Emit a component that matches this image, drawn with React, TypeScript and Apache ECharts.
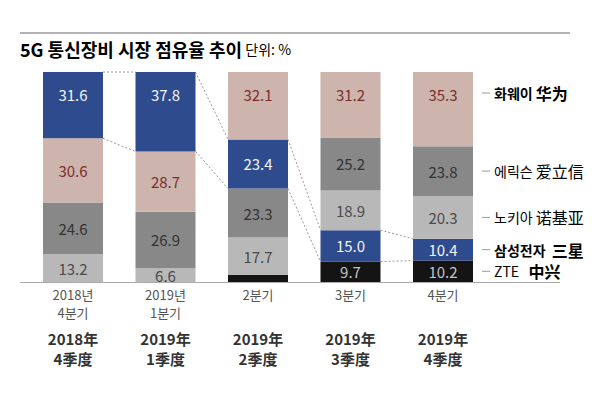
import React, { useEffect, useRef } from 'react';
import * as echarts from 'echarts';

// ---------- data ----------
const quartersKo = ['2018년\n4분기', '2019년\n1분기', '2분기', '3분기', '4분기'];
const quartersZh = ['2018年\n4季度', '2019年\n1季度', '2019年\n2季度', '2019年\n3季度', '2019年\n4季度'];
const companyKeys = ['samsung', 'huawei', 'ericsson', 'nokia', 'zte'];
const companiesKo = ['삼성전자', '화웨이', '에릭슨', '노키아', 'ZTE'];
const companiesZh = ['三星', '华为', '爱立信', '诺基亚', '中兴'];
const samsung = [31.6, 37.8, 23.4, 15.0, 10.4];
const huawei = [30.6, 28.7, 32.1, 31.2, 35.3];
const ericsson = [24.6, 26.9, 23.3, 25.2, 23.8];
const nokia = [13.2, 6.6, 17.7, 18.9, 20.3];
const zte = [0, 0, 3.5, 9.7, 10.2];
// stacking order per quarter, bottom -> top
const stackOrder = [
  ['zte', 'nokia', 'ericsson', 'huawei', 'samsung'],
  ['zte', 'nokia', 'ericsson', 'huawei', 'samsung'],
  ['zte', 'nokia', 'ericsson', 'samsung', 'huawei'],
  ['zte', 'samsung', 'nokia', 'ericsson', 'huawei'],
  ['zte', 'samsung', 'nokia', 'ericsson', 'huawei'],
];
const titleText = '5G 통신장비 시장 점유율 추이';
const unitText = '단위: %';

// ---------- styles ----------
const FONT = "'Noto Sans CJK KR', 'Noto Sans', sans-serif";
const BAR_W = 60;
const TOP_LABEL_OFFSET = 21;
const LABEL_MIN = 5;
const fill: Record<string, string> = {
  samsung: '#2d4b8d', huawei: '#cdb4ac', ericsson: '#888888', nokia: '#b8b8b8', zte: '#141414',
};
const labelColor: Record<string, string> = {
  samsung: '#f4f4f4', huawei: '#7a2e2e', ericsson: '#333333', nokia: '#4a4a4a', zte: '#c4c4c4',
};
const legendRich: Record<string, any> = {
  samsung: { a: { fontSize: 14, fontWeight: 'bold', color: '#2d4b8d' }, b: { fontSize: 16, fontWeight: 'bold', color: '#2d4b8d' }, gap: '  ' },
  huawei: { a: { fontSize: 14, fontWeight: 'bold', color: '#8a3636' }, b: { fontSize: 16, fontWeight: 'bold', color: '#8a3636' }, gap: ' ' },
  ericsson: { a: { fontSize: 14, color: '#666666' }, b: { fontSize: 16, color: '#555555' }, gap: ' ' },
  nokia: { a: { fontSize: 14, color: '#666666' }, b: { fontSize: 16, color: '#555555' }, gap: ' ' },
  zte: { a: { fontSize: 14, color: '#777777' }, b: { fontSize: 16, fontWeight: 'bold', color: '#111111' }, gap: '   ' },
};

const values: Record<string, number[]> = { samsung, huawei, ericsson, nokia, zte };

function bounds(key: string, i: number): [number, number] {
  let b = 0;
  for (const k of stackOrder[i]) {
    if (k === key) return [b, b + values[key][i]];
    b += values[k][i];
  }
  return [b, b];
}

export default function App() {
  const ref = useRef<HTMLDivElement>(null);
  useEffect(() => {
    if (!ref.current) return;
    const chart = echarts.init(ref.current, null, { renderer: 'svg' });

    const barSeries = [0, 1, 2, 3, 4].map((j) => ({
      type: 'bar',
      stack: 'total',
      barWidth: BAR_W,
      z: 3,
      label: {
        show: true,
        position: j === 4 ? 'insideTop' : 'inside',
        distance: 14,
        fontSize: 15,
        lineHeight: 16,
        fontFamily: FONT,
        formatter: (p: any) => Number(p.value).toFixed(1),
      },
      data: quartersKo.map((_, i) => {
        const key = stackOrder[i][j];
        const v = values[key][i];
        return {
          value: v,
          itemStyle: { color: fill[key] },
          label: { show: v >= LABEL_MIN, color: labelColor[key] },
        };
      }),
    }));

    const connectorData = [0, 1, 2, 3].map((i) => [i, ...bounds('samsung', i), ...bounds('samsung', i + 1)]);
    const last = quartersKo.length - 1;
    const legendData = companyKeys.map((key, k) => {
      const [b, t] = bounds(key, last);
      const isTop = stackOrder[last][4] === key ? 1 : 0;
      return [last, isTop ? t : (b + t) / 2, k, isTop];
    });

    chart.setOption({
      animation: false,
      textStyle: { fontFamily: FONT },
      grid: { left: 26.75, right: 126.75, top: 72, bottom: 116 },
      xAxis: [
        {
          type: 'category',
          data: quartersKo,
          axisLine: { show: false },
          axisTick: { show: false },
          axisLabel: { margin: 3, fontSize: 13, lineHeight: 18, color: '#555555', fontFamily: FONT },
        },
        {
          type: 'category',
          data: quartersZh,
          position: 'bottom',
          offset: 43,
          axisLine: { show: false },
          axisTick: { show: false },
          axisLabel: { margin: 3, fontSize: 15, lineHeight: 20, fontWeight: 'bold', color: '#333333', fontFamily: FONT },
        },
      ],
      yAxis: { type: 'value', min: 0, max: 100, show: false },
      series: [
        ...barSeries,
        {
          type: 'custom',
          z: 2,
          data: connectorData,
          encode: { x: 0, y: [1, 2, 3, 4] },
          renderItem: (_p: any, api: any) => {
            const i = api.value(0);
            const a0 = api.coord([i, api.value(1)]);
            const a1 = api.coord([i, api.value(2)]);
            const b0 = api.coord([i + 1, api.value(3)]);
            const b1 = api.coord([i + 1, api.value(4)]);
            const h = BAR_W / 2;
            const style = { stroke: '#9a9a9a', lineWidth: 1, lineDash: [2, 2] };
            return {
              type: 'group',
              children: [
                { type: 'line', shape: { x1: a0[0] + h, y1: a0[1], x2: b0[0] - h, y2: b0[1] }, style },
                { type: 'line', shape: { x1: a1[0] + h, y1: a1[1], x2: b1[0] - h, y2: b1[1] }, style },
              ],
            };
          },
        },
        {
          type: 'custom',
          z: 4,
          data: legendData,
          encode: { x: 0, y: 1 },
          renderItem: (_p: any, api: any) => {
            const i = api.value(0);
            const k = api.value(2);
            const isTop = api.value(3);
            const c = api.coord([i, api.value(1)]);
            const y = isTop ? c[1] + TOP_LABEL_OFFSET : c[1];
            const x0 = c[0] + BAR_W / 2 + 9;
            const key = companyKeys[k];
            const r = legendRich[key];
            return {
              type: 'group',
              children: [
                { type: 'line', shape: { x1: x0, y1: y, x2: x0 + 8, y2: y }, style: { stroke: '#999999', lineWidth: 1 } },
                {
                  type: 'text',
                  x: x0 + 12,
                  y,
                  style: {
                    text: `{a|${companiesKo[k]}}${r.gap}{b|${companiesZh[k]}}`,
                    rich: { a: { ...r.a, fontFamily: FONT }, b: { ...r.b, fontFamily: FONT } },
                    verticalAlign: 'middle',
                    align: 'left',
                    fontFamily: FONT,
                    fontSize: 14,
                  },
                },
              ],
            };
          },
        },
      ],
      graphic: [
        { type: 'line', shape: { x1: 20, y1: 33, x2: 570, y2: 33 }, style: { stroke: '#9a9a9a', lineWidth: 1.5 } },
        {
          type: 'text',
          x: 20,
          y: 48.5,
          style: {
            text: `{t|${titleText}} {u|${unitText}}`,
            rich: {
              t: { fontSize: 18, fontWeight: 'bold', color: '#2a2a2a', fontFamily: FONT },
              u: { fontSize: 14, color: '#666666', fontFamily: FONT },
            },
            verticalAlign: 'middle',
          },
        },
        { type: 'line', z: 10, shape: { x1: 20, y1: 282.5, x2: 560, y2: 282.5 }, style: { stroke: '#aaaaaa', lineWidth: 1 } },
      ],
    });
    return () => chart.dispose();
  }, []);
  return <div ref={ref} style={{ position: 'fixed', left: 0, top: 0, width: 616, height: 398, background: '#ffffff' }} />;
}
